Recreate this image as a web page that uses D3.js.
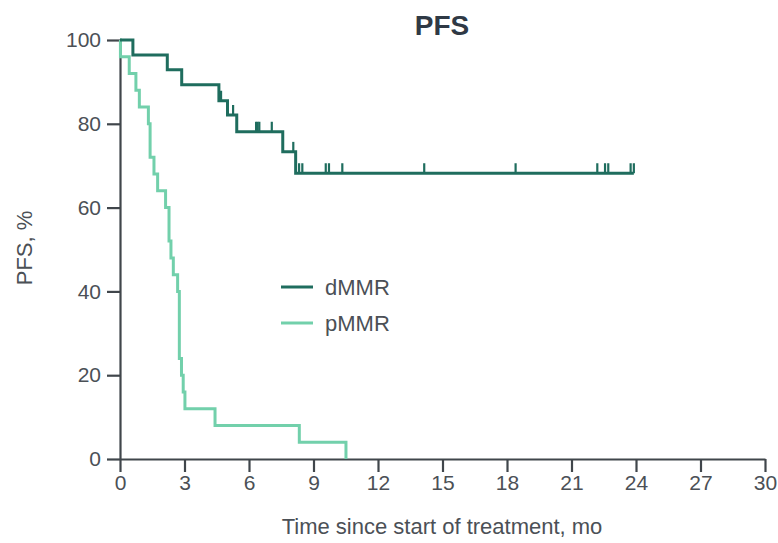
<!DOCTYPE html>
<html>
<head>
<meta charset="utf-8">
<script src="https://cdn.jsdelivr.net/npm/d3@7"></script>
<style>
  html, body { margin: 0; padding: 0; background: #ffffff; }
  svg { display: block; }
  text { font-family: "Liberation Sans", Arial, sans-serif; }
</style>
</head>
<body>
<svg id="chart" width="778" height="543"></svg>
<script>
// ---- data ----
const xTicks = [0, 3, 6, 9, 12, 15, 18, 21, 24, 27, 30];
const yTicks = [0, 20, 40, 60, 80, 100];

const dmmrTimes = [0, 0.6, 2.2, 2.87, 4.6, 5.0, 5.43, 7.57, 8.17, 23.9];
const dmmrSurv  = [100, 96.4, 92.9, 89.3, 85.5, 82.1, 78.1, 73.3, 68.2, 68.2];
const dmmrCensor = [4.7, 5.26, 6.33, 6.4, 6.48, 7.06, 8.06, 8.33, 8.48, 9.57, 9.72, 10.34, 14.15, 18.4, 22.2, 22.56, 22.71, 23.75, 23.9];

const pmmrTimes = [0, 0.02, 0.43, 0.74, 0.9, 1.32, 1.4, 1.58, 1.75, 2.12, 2.28, 2.37, 2.48, 2.68, 2.76, 2.86, 2.94, 3.02, 4.42, 8.34, 10.51];
const pmmrSurv  = [100, 96, 92, 88, 84, 80, 72, 68, 64, 60, 52, 48, 44, 40, 24, 20, 16, 12, 8, 4, 0];

const seriesNames = ["dMMR", "pMMR"];
const colors = { dMMR: "#1f6d5e", pMMR: "#72d0ab" };

// ---- layout ----
const svg = d3.select("#chart");
const x = d3.scaleLinear().domain([0, 30]).range([120, 765]);
const y = d3.scaleLinear().domain([0, 100]).range([459, 40]);
const axisColor = "#40464b";
const textColor = "#4b5056";

// y axis
const yAxis = svg.append("g").attr("transform", `translate(${x(0)},0)`)
  .call(d3.axisLeft(y).tickValues(yTicks).tickSize(13).tickSizeOuter(0).tickPadding(6));
// x axis
const xAxis = svg.append("g").attr("transform", `translate(0,${y(0)})`)
  .call(d3.axisBottom(x).tickValues(xTicks).tickSize(13).tickSizeOuter(0).tickPadding(3));

[yAxis, xAxis].forEach(g => {
  g.select(".domain").attr("stroke", axisColor).attr("stroke-width", 2.2);
  g.selectAll(".tick line").attr("stroke", axisColor).attr("stroke-width", 2.2);
  g.selectAll(".tick text").attr("fill", textColor).style("font-size", "21px")
    .style("font-family", "'Liberation Sans', Arial, sans-serif");
});

// curves
const line = d3.line().curve(d3.curveStepAfter).x(d => x(d[0])).y(d => y(d[1]));
const dmmr = dmmrTimes.map((t, i) => [t, dmmrSurv[i]]);
const pmmr = pmmrTimes.map((t, i) => [t, pmmrSurv[i]]);

svg.append("path").datum(pmmr).attr("d", line)
  .attr("fill", "none").attr("stroke", colors.pMMR).attr("stroke-width", 3);
svg.append("path").datum(dmmr).attr("d", line)
  .attr("fill", "none").attr("stroke", colors.dMMR).attr("stroke-width", 3);

// censor marks for dMMR
function survAt(t) {
  let v = dmmrSurv[0];
  for (let i = 0; i < dmmrTimes.length; i++) if (dmmrTimes[i] <= t) v = dmmrSurv[i];
  return v;
}
svg.append("g").selectAll("line").data(dmmrCensor).join("line")
  .attr("x1", d => x(d)).attr("x2", d => x(d))
  .attr("y1", d => y(survAt(d))).attr("y2", d => y(survAt(d)) - 10)
  .attr("stroke", colors.dMMR).attr("stroke-width", 2.2);

// legend
const leg = svg.append("g");
seriesNames.forEach((name, i) => {
  const ly = 287 + i * 36;
  leg.append("line").attr("x1", 281).attr("x2", 313).attr("y1", ly).attr("y2", ly)
    .attr("stroke", colors[name]).attr("stroke-width", 3);
  leg.append("text").attr("x", 325).attr("y", ly + 8).text(name)
    .attr("fill", textColor).style("font-size", "22px");
});

// title
svg.append("text").attr("x", 442).attr("y", 35).attr("text-anchor", "middle")
  .text("PFS").attr("fill", "#2f3945").style("font-size", "28px").style("font-weight", "bold");

// axis titles
svg.append("text").attr("x", 442).attr("y", 534).attr("text-anchor", "middle")
  .text("Time since start of treatment, mo").attr("fill", textColor).style("font-size", "22px");
svg.append("text").attr("transform", "translate(32,248) rotate(-90)").attr("text-anchor", "middle")
  .text("PFS, %").attr("fill", textColor).style("font-size", "22px");
</script>
</body>
</html>
